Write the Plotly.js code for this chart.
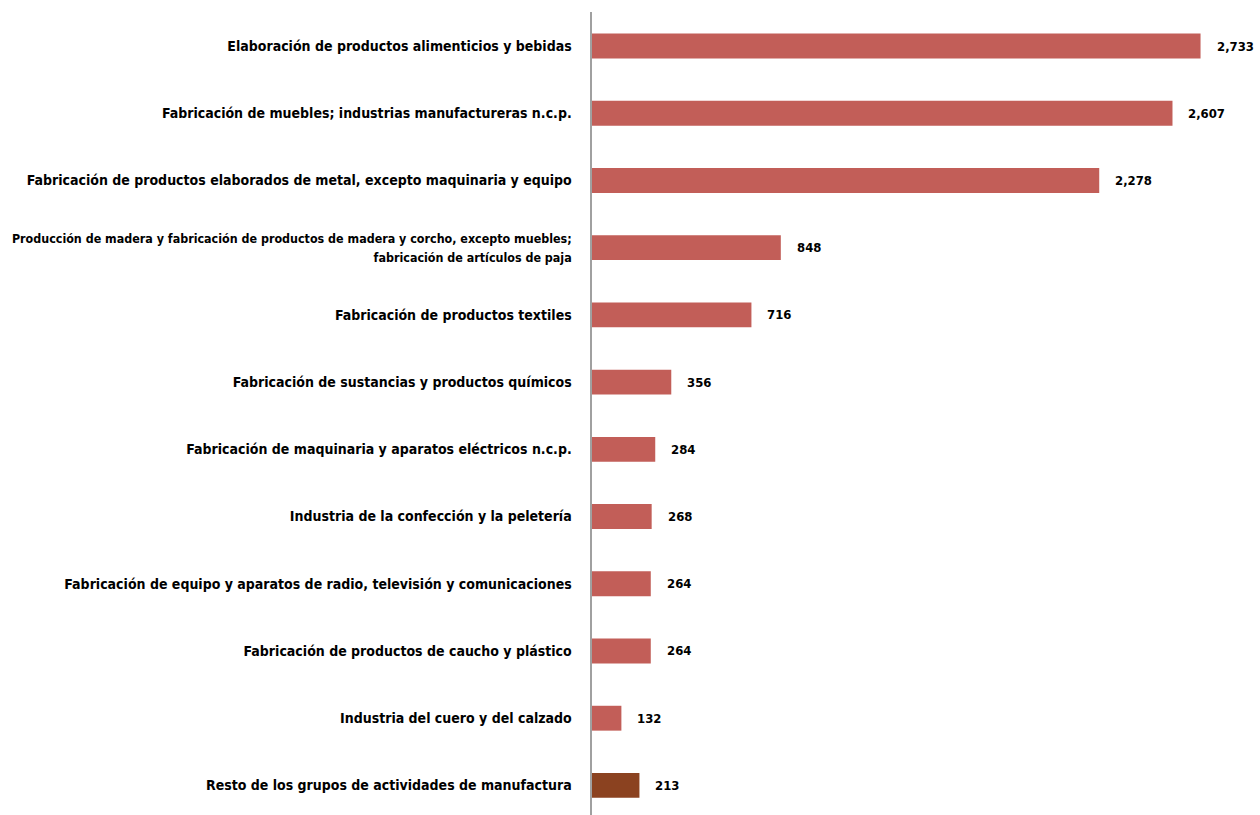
<!DOCTYPE html>
<html>
<head>
<meta charset="utf-8">
<script src="https://cdn.plot.ly/plotly-3.0.1.min.js"></script>
<style>html,body{margin:0;padding:0;background:#fff;}#chart{width:1260px;height:815px;}</style>
</head>
<body>
<div id="chart"></div>
<script>
const categories = [
  "Elaboración de productos alimenticios y bebidas",
  "Fabricación de muebles; industrias manufactureras n.c.p.",
  "Fabricación de productos elaborados de metal, excepto maquinaria y equipo",
  "<span style=\"font-size:12.4px\">Producción de madera y fabricación de productos de madera y corcho, excepto muebles;</span><br><span style=\"font-size:12.4px\">fabricación de artículos de paja</span>",
  "Fabricación de productos textiles",
  "Fabricación de sustancias y productos químicos",
  "Fabricación de maquinaria y aparatos eléctricos n.c.p.",
  "Industria de la confección y la peletería",
  "Fabricación de equipo y aparatos de radio, televisión y comunicaciones",
  "Fabricación de productos de caucho y plástico",
  "Industria del cuero y del calzado",
  "Resto de los grupos de actividades de manufactura"
];
const values = [2733, 2607, 2278, 848, 716, 356, 284, 268, 264, 264, 132, 213];
const valueLabels = ["2,733", "2,607", "2,278", "848", "716", "356", "284", "268", "264", "264", "132", "213"];

const barColors = categories.map((c, i) => i === categories.length - 1 ? "#8B4220" : "#C25E58");
const FONT = '"DejaVu Sans Condensed", "Liberation Sans Narrow", sans-serif';

const trace = {
  type: "bar",
  orientation: "h",
  y: categories,
  x: values,
  marker: {color: barColors, line: {width: 0}},
  width: 0.37,
  hoverinfo: "none"
};

const annotations = values.map((v, i) => ({
  x: v, y: categories[i], xref: "x", yref: "y",
  text: "<b>" + valueLabels[i] + "</b>",
  showarrow: false, xanchor: "left", xshift: 14,
  font: {family: FONT, size: 13, color: "#000"}
}));

const layout = {
  width: 1260, height: 815,
  margin: {l: 592, r: 0, t: 12, b: 0},
  paper_bgcolor: "#fff", plot_bgcolor: "#fff",
  showlegend: false,
  xaxis: {range: [0, 3000], visible: false, showgrid: false, zeroline: false},
  yaxis: {
    type: "category",
    range: [11.44, -0.506],
    showgrid: false, zeroline: false,
    showline: true, linecolor: "#A0A0A0", linewidth: 2.5,
    ticks: "", ticklabelstandoff: 15,
    tickfont: {family: FONT, size: 14, color: "#000", weight: "bold"}
  },
  annotations: annotations
};

Plotly.newPlot("chart", [trace], layout, {displayModeBar: false, staticPlot: true});
</script>
</body>
</html>
